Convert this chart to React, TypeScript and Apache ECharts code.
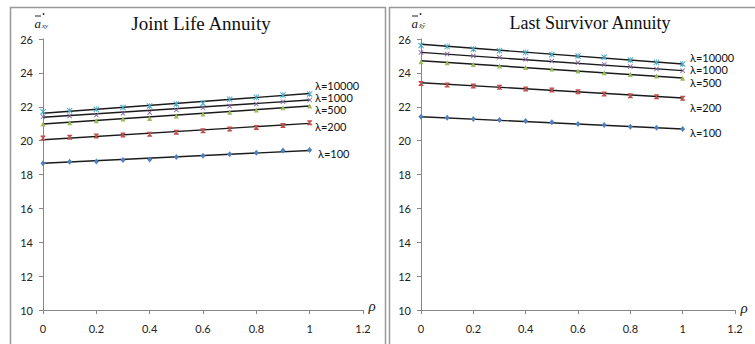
import React, { useEffect, useRef } from "react";
import * as echarts from "echarts";

const RHO = [0, 0.1, 0.2, 0.3, 0.4, 0.5, 0.6, 0.7, 0.8, 0.9, 1];
const LAMBDAS = ["λ=100", "λ=200", "λ=500", "λ=1000", "λ=10000"];

// Joint Life Annuity marker values
const joint100 = [18.66, 18.76, 18.77, 18.85, 18.89, 19.03, 19.1, 19.2, 19.28, 19.42, 19.44];
const joint200 = [20.15, 20.2, 20.27, 20.33, 20.38, 20.5, 20.58, 20.69, 20.78, 20.9, 21.06];
const joint500 = [20.98, 21.06, 21.18, 21.27, 21.31, 21.45, 21.57, 21.67, 21.81, 21.94, 22.04];
const joint1000 = [21.41, 21.45, 21.51, 21.61, 21.65, 21.81, 21.94, 22.04, 22.16, 22.3, 22.4];
const joint10000 = [21.71, 21.77, 21.85, 21.96, 22.04, 22.16, 22.2, 22.44, 22.56, 22.69, 22.75];
// trend line end values (rho = 0 and rho = 1)
const jointFit100 = [18.66, 19.42];
const jointFit200 = [20.05, 21.02];
const jointFit500 = [20.98, 22.04];
const jointFit1000 = [21.38, 22.4];
const jointFit10000 = [21.62, 22.78];

// Last Survivor Annuity marker values
const last100 = [21.41, 21.35, 21.28, 21.22, 21.16, 21.08, 20.98, 20.92, 20.82, 20.76, 20.69];
const last200 = [23.38, 23.28, 23.22, 23.15, 23.05, 22.99, 22.89, 22.75, 22.65, 22.59, 22.5];
const last500 = [24.66, 24.6, 24.5, 24.41, 24.31, 24.23, 24.11, 24.01, 23.91, 23.81, 23.68];
const last1000 = [25.21, 25.11, 25.0, 24.92, 24.8, 24.7, 24.6, 24.5, 24.37, 24.23, 24.13];
const last10000 = [25.62, 25.55, 25.41, 25.31, 25.21, 25.09, 25.0, 24.92, 24.76, 24.62, 24.52];
const lastFit100 = [21.41, 20.69];
const lastFit200 = [23.42, 22.52];
const lastFit500 = [24.72, 23.7];
const lastFit1000 = [25.21, 24.13];
const lastFit10000 = [25.69, 24.52];

const FIT_X = [0, 1];

const COLORS = ["#4f81bd", "#c0504d", "#9bbb59", "#8064a2", "#4bacc6"];
const HOURGLASS = "path://M0,0H10V1.6L6.2,5L10,8.4V10H0V8.4L3.8,5L0,1.6Z";
const XMARK = "path://M0,1.2L1.2,0L5,3.8L8.8,0L10,1.2L6.2,5L10,8.8L8.8,10L5,6.2L1.2,10L0,8.8L3.8,5Z";
const STAR = "path://M0,1.2L1.2,0L5,3.8L8.8,0L10,1.2L6.2,5L10,8.8L8.8,10L5,6.2L1.2,10L0,8.8L3.8,5Z M4.4,0H5.6V10H4.4Z";
const SYMBOLS: any[] = ["diamond", HOURGLASS, "triangle", XMARK, STAR];
const SIZES: any[] = [[5, 6], 5, 5, 5, 6];

const TICK_FONT = "'Liberation Sans Narrow', Lato, sans-serif";

export default function App() {
  const ref = useRef<HTMLDivElement>(null);
  useEffect(() => {
    if (!ref.current) return;
    const chart = echarts.init(ref.current, null, { renderer: "svg" });

    const jointVals = [joint100, joint200, joint500, joint1000, joint10000];
    const jointFits = [jointFit100, jointFit200, jointFit500, jointFit1000, jointFit10000];
    const lastVals = [last100, last200, last500, last1000, last10000];
    const lastFits = [lastFit100, lastFit200, lastFit500, lastFit1000, lastFit10000];

    const series: any[] = [];
    const addPanel = (vals: number[][], fits: number[][], idx: number) => {
      fits.forEach((f) => {
        series.push({
          type: "line",
          xAxisIndex: idx,
          yAxisIndex: idx,
          data: FIT_X.map((x, k) => [x, f[k]]),
          showSymbol: false,
          symbol: "none",
          lineStyle: { color: "#1a1a1a", width: 1.4 },
          z: 2,
          silent: true,
        });
      });
      vals.forEach((v, i) => {
        series.push({
          type: "scatter",
          name: LAMBDAS[i],
          xAxisIndex: idx,
          yAxisIndex: idx,
          data: RHO.map((x, k) => [x, v[k]]),
          symbol: SYMBOLS[i],
          symbolSize: SIZES[i],
          itemStyle: { color: COLORS[i], opacity: 1 },
          z: 3,
        });
      });
    };
    addPanel(jointVals, jointFits, 0);
    addPanel(lastVals, lastFits, 1);

    const xAxisBase = (gi: number) => ({
      type: "value",
      gridIndex: gi,
      min: 0,
      max: 1.2,
      interval: 0.2,
      axisLine: { show: true, lineStyle: { color: "#878787", width: 1 } },
      axisTick: { show: true, length: 4, lineStyle: { color: "#878787" } },
      splitLine: { show: false },
      axisLabel: { color: "#222", fontSize: 11, fontFamily: TICK_FONT, margin: 13 },
    });
    const yAxisBase = (gi: number) => ({
      type: "value",
      gridIndex: gi,
      min: 10,
      max: 26,
      interval: 2,
      axisLine: { show: true, lineStyle: { color: "#878787", width: 1 } },
      axisTick: { show: true, length: 4, lineStyle: { color: "#878787" } },
      splitLine: { show: false },
      axisLabel: { color: "#222", fontSize: 11, fontFamily: TICK_FONT, margin: 10 },
    });

    const lamLabel = (text: string, x: number, y: number) => ({
      type: "text",
      x,
      y,
      style: {
        text,
        fill: "#111",
        font: `11px ${TICK_FONT}`,
        lineHeight: 10,
        verticalAlign: "middle",
      },
    });

    const yLabel = (x0: number, sub: string) => ({
      type: "group",
      children: [
        { type: "line", shape: { x1: x0, y1: 16, x2: x0 + 6, y2: 16 }, style: { stroke: "#222", lineWidth: 1 } },
        { type: "circle", shape: { cx: x0 + 8.5, cy: 14, r: 0.9 }, style: { fill: "#222" } },
        {
          type: "text",
          x: x0 - 0.5,
          y: 23,
          style: { text: "a", font: "italic 13px 'Liberation Serif', serif", fill: "#222", verticalAlign: "middle" },
        },
        {
          type: "text",
          x: x0 + 7,
          y: 26,
          style: { text: sub, font: "italic 7px 'Liberation Serif', serif", fill: "#222", verticalAlign: "middle" },
        },
      ],
    });

    chart.setOption({
      animation: false,
      backgroundColor: "#ffffff",
      grid: [
        { left: 43, top: 39, width: 320, height: 271 },
        { left: 421, top: 39, width: 314, height: 271 },
      ],
      xAxis: [xAxisBase(0), xAxisBase(1)],
      yAxis: [yAxisBase(0), yAxisBase(1)],
      series,
      graphic: [
        { type: "rect", shape: { x: 10.5, y: 7.5, width: 375, height: 360 }, style: { fill: "none", stroke: "#999", lineWidth: 1.5 } },
        { type: "rect", shape: { x: 389.5, y: 7.5, width: 380, height: 360 }, style: { fill: "none", stroke: "#999", lineWidth: 1.5 } },
        {
          type: "text",
          x: 201,
          y: 23,
          style: {
            text: "Joint Life Annuity",
            font: "19px 'Liberation Serif', serif",
            fill: "#111",
            align: "center",
            verticalAlign: "middle",
          },
        },
        {
          type: "text",
          x: 590,
          y: 23,
          style: {
            text: "Last Survivor Annuity",
            font: "18px 'Liberation Serif', serif",
            fill: "#111",
            align: "center",
            verticalAlign: "middle",
          },
        },
        yLabel(35, "xy"),
        yLabel(412, "x̄ȳ"),
        { type: "text", x: 372, y: 306, style: { text: "ρ", font: "italic 15px 'Liberation Serif', serif", fill: "#222", align: "center", verticalAlign: "middle" } },
        { type: "text", x: 744, y: 308, style: { text: "ρ", font: "italic 15px 'Liberation Serif', serif", fill: "#222", align: "center", verticalAlign: "middle" } },
        lamLabel("λ=10000", 315, 85),
        lamLabel("λ=1000", 315, 97.5),
        lamLabel("λ=500", 315, 109.5),
        lamLabel("λ=200", 315, 126),
        lamLabel("λ=100", 318, 153),
        lamLabel("λ=10000", 690, 57),
        lamLabel("λ=1000", 690, 69),
        lamLabel("λ=500", 690, 82),
        lamLabel("λ=200", 690, 107),
        lamLabel("λ=100", 690, 132),
      ],
    });
    return () => chart.dispose();
  }, []);
  return (
    <div
      ref={ref}
      style={{ position: "fixed", left: 0, top: 0, width: 755, height: 344 }}
    />
  );
}
